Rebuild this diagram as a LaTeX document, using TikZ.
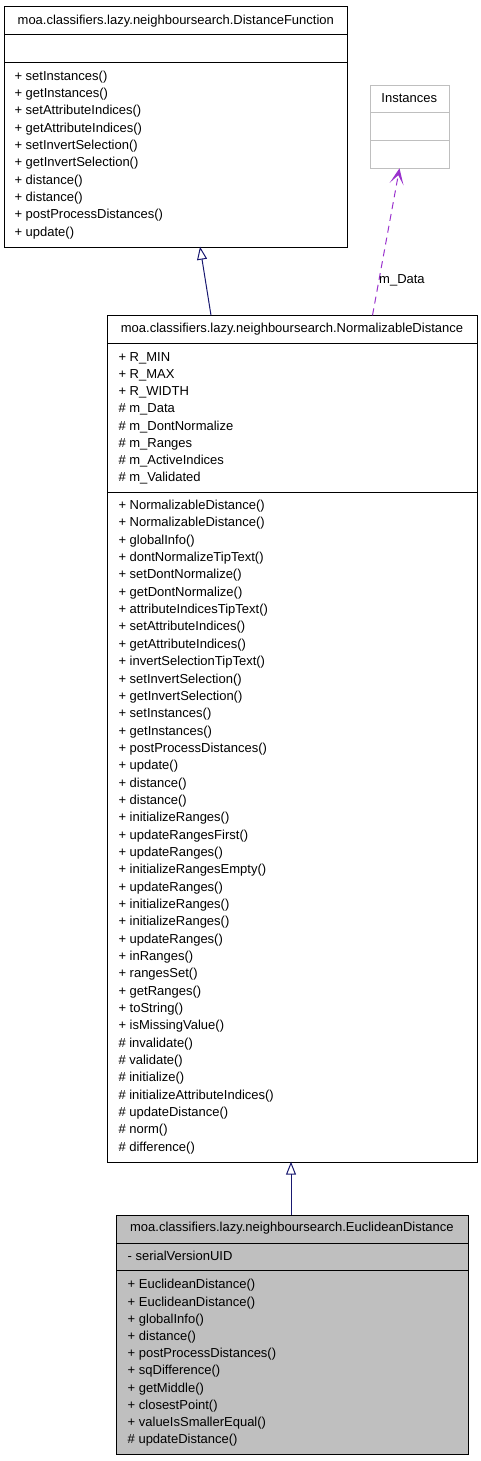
\documentclass[tikz,border=0pt]{standalone}
\usepackage{fontspec}
\setmainfont{Liberation Sans}
\usetikzlibrary{arrows.meta}
\definecolor{edgeblue}{HTML}{191970}
\definecolor{orchid}{HTML}{9A32CD}
\definecolor{boxgray}{HTML}{BFBFBF}
\begin{document}
\begin{tikzpicture}[x=1pt,y=1pt,
  txt/.style={font=\fontsize{13}{15}\selectfont, inner sep=0pt},
  mem/.style={txt, anchor=base west},
  ttl/.style={txt, anchor=base},
  box/.style={draw=black, line width=1pt, inner sep=0pt, anchor=north west},
  sep/.style={draw=black, line width=1pt},
  inherit/.style={draw=edgeblue, line width=1pt, -{Triangle[open, length=13pt, width=10pt]}},
  usage/.style={draw=orchid, line width=1pt, dash pattern=on 7pt off 5pt,
     -{Stealth[length=16pt, width=14pt, inset=9pt, fill=orchid]}}]
\useasboundingbox (0,0) rectangle (481,-1461);

% ---------- DistanceFunction ----------
\node[box, minimum width=343pt, minimum height=240.4pt] (df) at (4.3,-6.3) {};
\draw[sep] (4.3,-34.3) -- (347.3,-34.3);
\draw[sep] (4.3,-62.3) -- (347.3,-62.3);
\node[ttl] (dft) at (175.8,-24.6) {moa.classifiers.lazy.neighboursearch.DistanceFunction};
\foreach \t [count=\i from 0] in {setInstances(),getInstances(),setAttributeIndices(),getAttributeIndices(),setInvertSelection(),getInvertSelection(),distance(),distance(),postProcessDistances(),update()}
  \node[mem] (dfm\i) at (14.3,{-(80.3+\i*17.33)}) {+ \t};

% ---------- Instances ----------
\node[box, draw=boxgray, minimum width=78.7pt, minimum height=83.6pt] (inst) at (370,-84.7) {};
\draw[sep, draw=boxgray] (370,-112.7) -- (448.7,-112.7);
\draw[sep, draw=boxgray] (370,-140.7) -- (448.7,-140.7);
\node[ttl] (instt) at (409.3,-102.2) {Instances};

% ---------- NormalizableDistance ----------
\node[box, minimum width=369.4pt, minimum height=846.4pt] (nd) at (107.3,-315.3) {};
\draw[sep] (107.3,-343.3) -- (476.7,-343.3);
\draw[sep] (107.3,-492.7) -- (476.7,-492.7);
\node[ttl] (ndt) at (292,-332.8) {moa.classifiers.lazy.neighboursearch.NormalizableDistance};
\foreach \t [count=\i from 0] in {+ R\_MIN,+ R\_MAX,+ R\_WIDTH,\# m\_Data,\# m\_DontNormalize,\# m\_Ranges,\# m\_ActiveIndices,\# m\_Validated}
  \node[mem] (nda\i) at (118.3,{-(361.2+\i*17.23)}) {\t};
\foreach \t [count=\i from 0] in {+ NormalizableDistance(),+ NormalizableDistance(),+ globalInfo(),+ dontNormalizeTipText(),+ setDontNormalize(),+ getDontNormalize(),+ attributeIndicesTipText(),+ setAttributeIndices(),+ getAttributeIndices(),+ invertSelectionTipText(),+ setInvertSelection(),+ getInvertSelection(),+ setInstances(),+ getInstances(),+ postProcessDistances(),+ update(),+ distance(),+ distance(),+ initializeRanges(),+ updateRangesFirst(),+ updateRanges(),+ initializeRangesEmpty(),+ updateRanges(),+ initializeRanges(),+ initializeRanges(),+ updateRanges(),+ inRanges(),+ rangesSet(),+ getRanges(),+ toString(),+ isMissingValue(),\# invalidate(),\# validate(),\# initialize(),\# initializeAttributeIndices(),\# updateDistance(),\# norm(),\# difference()}
  \node[mem] (ndm\i) at (118.3,{-(509.6+\i*17.34)}) {\t};

% ---------- EuclideanDistance ----------
\node[box, fill=boxgray, minimum width=351.7pt, minimum height=239.3pt] (ed) at (116,-1215) {};
\draw[sep] (116,-1243.3) -- (467.7,-1243.3);
\draw[sep] (116,-1270.7) -- (467.7,-1270.7);
\node[ttl] (edt) at (291.9,-1231.8) {moa.classifiers.lazy.neighboursearch.EuclideanDistance};
\node[mem] (eda0) at (127.5,-1260.2) {- serialVersionUID};
\foreach \t [count=\i from 0] in {+ EuclideanDistance(),+ EuclideanDistance(),+ globalInfo(),+ distance(),+ postProcessDistances(),+ sqDifference(),+ getMiddle(),+ closestPoint(),+ valueIsSmallerEqual(),\# updateDistance()}
  \node[mem] (edm\i) at (127.5,{-(1288.9+\i*17.2)}) {\t};

% ---------- connectors ----------
\coordinate (nd-top-a) at (211,-315.3);
\coordinate (df-bot) at (200,-246.7);
\draw[inherit] (nd-top-a) -- (df-bot);

\coordinate (ed-top) at (291,-1215);
\coordinate (nd-bot) at (291,-1161.7);
\draw[inherit] (ed-top) -- (nd-bot);

\coordinate (nd-top-b) at (372.5,-315.3);
\coordinate (inst-bot) at (399.5,-168.3);
\draw[usage] (nd-top-b) -- (inst-bot);
\node[txt, anchor=west] (lbl) at (379,-280.7) {m\_Data};
\end{tikzpicture}
\end{document}
